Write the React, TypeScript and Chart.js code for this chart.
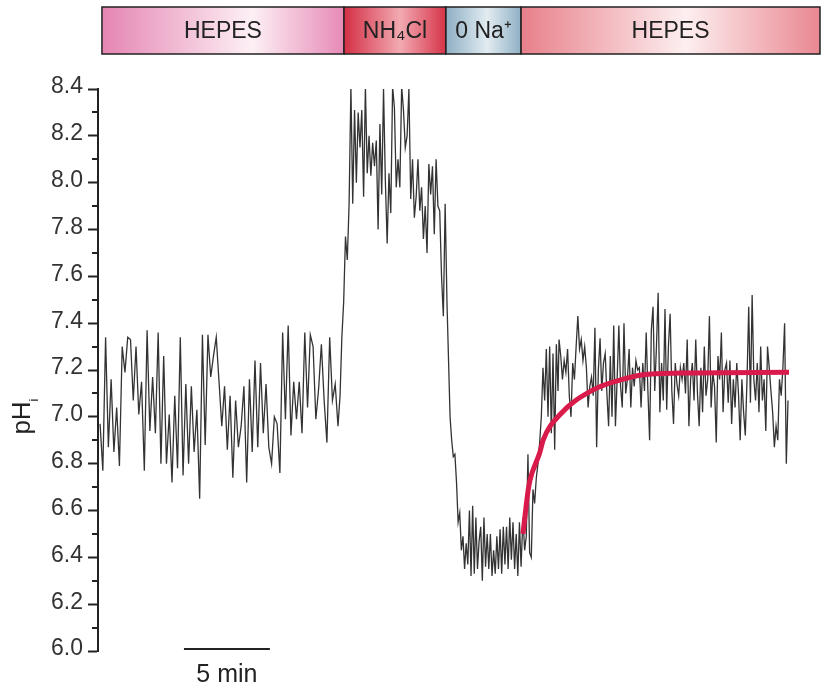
import React, { useEffect, useRef } from "react";
import { Chart, registerables } from "chart.js";

Chart.register(...registerables);

const FONT = '"Liberation Sans", Arial, Helvetica, sans-serif';

// Solution bars on top (minutes)
const STAGE_LABELS = ["HEPES", "NH₄Cl", "0 Na⁺", "HEPES"];
const STAGE_EDGES_MIN = [0.23, 14.31, 20.24, 24.61, 42.0];
const STAGE_GRADIENTS = [
  ["#e585b2", "#fdf0f5", "#e78ab6"],
  ["#d42f45", "#f2aab1", "#d63349"],
  ["#8eafc4", "#e2ecf1", "#90b0c5"],
  ["#e7808a", "#fdeff0", "#e98791"],
];

// Y axis
const Y_MIN = 6.0;
const Y_MAX = 8.4;
const Y_STEP = 0.2;

// X range (minutes) and scale bar
const X_MIN = 0;
const X_MAX = 42;
const SCALE_BAR_MIN = [5, 10];
const SCALE_BAR_LABEL = "5 min";

// Recording segments (start/end time in minutes)
const SEG_START_MIN = [0.12, 14.08, 20.48, 24.72, 26.82];
const SEG_END_MIN = [13.96, 20.3, 24.61, 26.76, 40.14];

const PH_HEPES = [
  6.97, 6.77, 7.34, 6.87, 7.16, 6.85, 7.04, 6.79, 7.3, 7.19, 7.34, 7.33, 7.07, 7.3, 7.01, 7.15,
  6.77, 7.37, 6.94, 7.17, 6.93, 7.36, 6.8, 7.26, 6.8, 7.01, 6.72, 7.09, 6.78, 7.34, 6.75, 7.14,
  6.8, 7.13, 6.85, 7.03, 6.65, 7.35, 6.88, 7.35, 7.17, 7.26, 7.34, 7.15, 6.96, 7.13, 6.86, 7.09,
  6.74, 7.07, 6.87, 6.96, 7.13, 6.72, 7.16, 6.85, 7.24, 6.87, 7.23, 6.93, 7.14, 6.87, 6.8, 7.0,
  6.97, 6.76, 7.36, 6.99, 7.39, 6.92, 7.15, 6.99, 7.15, 6.93, 7.36, 7.04, 7.35, 7.3, 6.99, 7.12,
  7.31, 7.07, 6.89, 7.34, 7.07, 7.14, 6.96,
];

const PH_NH4CL = [
  7.09, 7.34, 7.49, 7.77, 7.67, 7.91, 8.41, 7.91, 8.31, 8.0, 8.3, 8.15, 8.31, 7.94, 8.41, 8.04,
  8.2, 8.03, 8.17, 8.07, 8.18, 7.8, 8.25, 7.95, 8.4, 8.01, 7.74, 8.04, 7.87, 8.41, 8.32, 7.98,
  8.1, 7.98, 8.41, 8.31, 8.15, 8.2, 8.4, 7.93, 8.1, 7.85, 7.94, 8.1, 7.88, 7.98, 7.76, 7.9,
  7.7, 8.08, 7.95, 8.07, 7.78, 8.1, 7.9, 7.88, 7.6, 7.43, 7.91, 7.49,
];

const PH_ZERO_NA = [
  7.0, 6.9, 6.83, 6.84, 6.72, 6.55, 6.59, 6.43, 6.49, 6.35, 6.46, 6.37, 6.6, 6.32, 6.62, 6.33,
  6.57, 6.35, 6.47, 6.53, 6.3, 6.57, 6.36, 6.5, 6.35, 6.5, 6.32, 6.43, 6.33, 6.49, 6.35, 6.52,
  6.33, 6.53, 6.37, 6.53, 6.35, 6.57, 6.39, 6.55, 6.35, 6.5, 6.32, 6.55, 6.36,
];

const PH_RECOVERY_EARLY = [
  6.57, 6.43, 6.49, 6.84, 6.42, 6.4, 6.69, 6.63, 6.74, 6.8, 6.89, 7.0, 7.21, 7.07, 7.29, 7.0,
  7.3, 6.93, 7.27, 6.86, 7.31, 7.11,
];

const PH_RECOVERY = [
  7.33, 7.26, 7.16, 7.24, 7.19, 7.29, 7.09, 7.0, 7.23, 7.16, 7.3, 7.43, 7.29, 7.33, 7.24, 7.3,
  7.21, 7.04, 7.13, 7.17, 7.09, 7.38, 6.87, 7.2, 7.335, 7.11, 7.23, 7.27, 7.1, 6.96, 7.26, 7.0,
  7.39, 6.96, 7.16, 7.39, 7.13, 7.04, 7.4, 7.1, 7.16, 7.29, 7.04, 7.21, 7.13, 7.24, 7.2, 7.21,
  7.04, 7.23, 7.11, 7.36, 7.11, 6.9, 7.37, 7.47, 7.11, 7.3, 7.53, 7.02, 7.23, 7.07, 7.46, 7.03,
  7.3, 7.44, 7.11, 6.97, 7.23, 7.14, 7.09, 7.21, 7.16, 7.23, 7.1, 7.33, 6.96, 7.16, 7.23, 7.07,
  7.33, 7.1, 6.96, 7.21, 7.02, 7.3, 7.09, 7.16, 7.43, 7.04, 7.19, 7.13, 6.89, 7.26, 7.16, 7.36,
  7.02, 7.2, 7.23, 7.06, 7.24, 6.97, 7.16, 7.04, 7.23, 7.1, 6.9, 7.16, 7.02, 6.92, 7.16, 7.47,
  7.06, 7.52, 7.16, 7.07, 7.23, 7.02, 7.3, 7.07, 7.16, 6.94, 7.3, 7.21, 7.11, 7.02, 6.87, 6.96,
  6.9, 7.16, 7.09, 7.21, 7.4, 6.8, 7.07,
];

// Exponential recovery fit
const FIT_T_MIN = [24.72, 25.01, 25.13, 25.71, 25.89, 26.88, 28.8, 30.77, 31.7, 33.86, 40.2];
const FIT_PH = [6.5, 6.68, 6.73, 6.85, 6.9, 7.01, 7.115, 7.165, 7.18, 7.187, 7.19];

const SEGMENTS = [PH_HEPES, PH_NH4CL, PH_ZERO_NA, PH_RECOVERY_EARLY, PH_RECOVERY];

function buildTrace() {
  const pts: { x: number; y: number }[] = [];
  SEGMENTS.forEach((vals, s) => {
    const t0 = SEG_START_MIN[s];
    const t1 = SEG_END_MIN[s];
    const n = vals.length;
    vals.forEach((v, i) => {
      pts.push({ x: t0 + ((t1 - t0) * i) / (n - 1), y: v });
    });
  });
  return pts;
}

const decorPlugin = {
  id: "decor",
  afterDraw(chart: any) {
    const { ctx, chartArea, scales } = chart;
    const xs = scales.x;
    const ys = scales.y;
    ctx.save();

    // Stage bars
    const top = 7;
    const bot = 54;
    for (let i = 0; i < STAGE_LABELS.length; i++) {
      const x0 = xs.getPixelForValue(STAGE_EDGES_MIN[i]);
      const x1 = xs.getPixelForValue(STAGE_EDGES_MIN[i + 1]);
      const g = ctx.createLinearGradient(x0, 0, x1, 0);
      const c = STAGE_GRADIENTS[i];
      g.addColorStop(0, c[0]);
      g.addColorStop(i === 0 ? 0.62 : 0.55, c[1]);
      g.addColorStop(1, c[2]);
      ctx.fillStyle = g;
      ctx.fillRect(x0, top, x1 - x0, bot - top);
      ctx.strokeStyle = "#222";
      ctx.lineWidth = 1.5;
      ctx.strokeRect(x0, top, x1 - x0, bot - top);
      ctx.fillStyle = "#222";
      ctx.font = `23px ${FONT}`;
      ctx.textAlign = "center";
      ctx.textBaseline = "middle";
      ctx.fillText(STAGE_LABELS[i], (x0 + x1) / 2, (top + bot) / 2 + 1);
    }

    // Minor ticks
    ctx.strokeStyle = "#222";
    ctx.lineWidth = 2;
    for (let v = Y_MIN + Y_STEP / 2; v < Y_MAX; v += Y_STEP) {
      const y = Math.round(ys.getPixelForValue(v));
      ctx.beginPath();
      ctx.moveTo(chartArea.left - 6, y);
      ctx.lineTo(chartArea.left, y);
      ctx.stroke();
    }

    // Y title pH_i
    ctx.save();
    ctx.translate(30, 418);
    ctx.rotate(-Math.PI / 2);
    ctx.fillStyle = "#222";
    ctx.font = `26px ${FONT}`;
    ctx.textAlign = "left";
    ctx.textBaseline = "alphabetic";
    const w = ctx.measureText("pH").width;
    ctx.fillText("pH", -w / 2, 0);
    ctx.font = `13px ${FONT}`;
    ctx.fillText("i", w / 2, 8);
    ctx.restore();

    // Scale bar
    const sx0 = xs.getPixelForValue(SCALE_BAR_MIN[0]);
    const sx1 = xs.getPixelForValue(SCALE_BAR_MIN[1]);
    const sy = 649;
    ctx.strokeStyle = "#222";
    ctx.lineWidth = 2;
    ctx.beginPath();
    ctx.moveTo(sx0, sy);
    ctx.lineTo(sx1, sy);
    ctx.stroke();
    ctx.fillStyle = "#222";
    ctx.font = `25px ${FONT}`;
    ctx.textAlign = "center";
    ctx.textBaseline = "alphabetic";
    ctx.fillText(SCALE_BAR_LABEL, (sx0 + sx1) / 2, 682);

    ctx.restore();
  },
};

export default function App() {
  const ref = useRef<HTMLCanvasElement | null>(null);

  useEffect(() => {
    if (!ref.current) return;
    const chart = new Chart(ref.current, {
      type: "line",
      data: {
        datasets: [
          {
            label: "fit",
            data: FIT_T_MIN.map((t, i) => ({ x: t, y: FIT_PH[i] })),
            borderColor: "#d91b4c",
            borderWidth: 5,
            pointRadius: 0,
            cubicInterpolationMode: "monotone",
            borderCapStyle: "butt",
          },
          {
            label: "pHi",
            data: buildTrace(),
            borderColor: "#333333",
            borderWidth: 1.3,
            pointRadius: 0,
            tension: 0,
          },
        ],
      },
      options: {
        animation: false,
        responsive: false,
        devicePixelRatio: 1,
        layout: { padding: { left: 0, right: 3, top: 89, bottom: 35 } },
        plugins: { legend: { display: false }, tooltip: { enabled: false } },
        scales: {
          x: { type: "linear", min: X_MIN, max: X_MAX, display: false },
          y: {
            type: "linear",
            min: Y_MIN,
            max: Y_MAX,
            afterFit: (scale: any) => {
              scale.width = 98;
            },
            ticks: {
              stepSize: Y_STEP,
              padding: 5,
              labelOffset: -2,
              color: "#333",
              font: { size: 23, family: FONT },
              callback: (v: any) => Number(v).toFixed(1),
            },
            grid: {
              drawOnChartArea: false,
              drawTicks: true,
              tickLength: 10,
              tickWidth: 2,
              tickColor: "#222",
            },
            border: { display: true, color: "#222", width: 2 },
          },
        },
      },
      plugins: [decorPlugin],
    });
    return () => chart.destroy();
  }, []);

  return (
    <div style={{ position: "fixed", left: 0, top: 0, width: 823, height: 686, background: "#fff" }}>
      <canvas ref={ref} width={823} height={686} />
    </div>
  );
}
